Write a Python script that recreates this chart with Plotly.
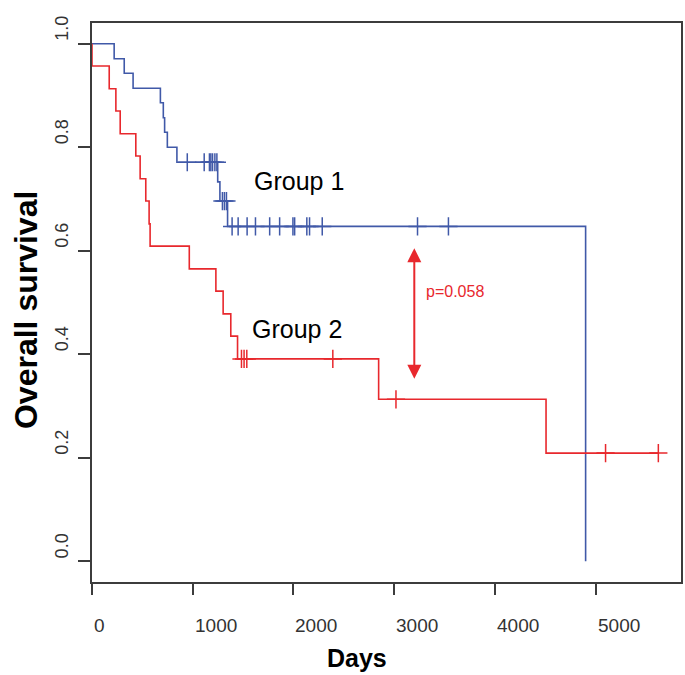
import plotly.graph_objects as go

# ---------------- data ----------------
g1_event_days = [220, 320, 408, 679, 708, 721, 748, 843, 1248, 1270, 1346, 4901]
g1_surv = [0.971, 0.943, 0.914, 0.886, 0.857, 0.829, 0.800, 0.771, 0.733, 0.696, 0.647, 0.0]
g1_censor_days = [946, 1114, 1166, 1180, 1197, 1220, 1240, 1295, 1315, 1335,
                  1391, 1451, 1540, 1623, 1764, 1863, 1995, 2012, 2133, 2160, 2286, 3232, 3539]

g2_event_days = [0, 171, 237, 280, 435, 478, 534, 567, 577, 966, 1230, 1302, 1378, 1445, 2846, 4508]
g2_surv = [0.957, 0.913, 0.870, 0.826, 0.783, 0.739, 0.696, 0.652, 0.609, 0.565,
           0.522, 0.478, 0.435, 0.391, 0.313, 0.209]
g2_censor_days = [1484, 1510, 1537, 2391, 3018, 5099, 5623]

x_ticks = [0, 1000, 2000, 3000, 4000, 5000]
x_tick_labels = ["0", "1000", "2000", "3000", "4000", "5000"]
y_ticks = [0.0, 0.2, 0.4, 0.6, 0.8, 1.0]
y_tick_labels = ["0.0", "0.2", "0.4", "0.6", "0.8", "1.0"]

group_names = ["Group 1", "Group 2"]
p_text = "p=0.058"
arrow_day = 3200
arrow_top, arrow_bottom = 0.605, 0.350

BLUE = "#4059a8"
RED = "#e8282d"
AXC = "#3c3c3c"
FONT = "Liberation Sans, Arial, Helvetica, sans-serif"


def step_xy(days, surv, censors):
    xs = [0] + list(days)
    ys = [1.0] + list(surv)
    if censors and max(censors) > xs[-1]:
        xs.append(max(censors))
        ys.append(ys[-1])
    return xs, ys


def level_at(days, surv, t):
    s = 1.0
    for d, v in zip(days, surv):
        if d <= t:
            s = v
    return s


fig = go.Figure()
for days, surv, cens, col in [(g1_event_days, g1_surv, g1_censor_days, BLUE),
                              (g2_event_days, g2_surv, g2_censor_days, RED)]:
    xs, ys = step_xy(days, surv, cens)
    fig.add_trace(go.Scatter(x=xs, y=ys, mode="lines", line=dict(color=col, width=1.6, shape="hv"),
                             showlegend=False, hoverinfo="skip"))
    fig.add_trace(go.Scatter(x=cens, y=[level_at(days, surv, t) for t in cens], mode="markers",
                             marker=dict(symbol="cross-thin", size=13, line=dict(color=col, width=1.5)),
                             showlegend=False, hoverinfo="skip"))

annotations = []
for v, lab in zip(x_ticks, x_tick_labels):
    annotations.append(dict(x=v, y=-0.0787, xref="x", yref="paper", text=lab, showarrow=False,
                            xanchor="left", yanchor="middle", font=dict(family=FONT, size=19, color="#333")))
for v, lab in zip(y_ticks, y_tick_labels):
    annotations.append(dict(x=-0.0508, y=v, xref="paper", yref="y", text=lab, showarrow=False,
                            textangle=-90, xanchor="center", yanchor="middle", yshift=15,
                            font=dict(family=FONT, size=18, color="#333")))
annotations.append(dict(x=-0.112, y=0.4866, xref="paper", yref="paper", text="<b>Overall survival</b>",
                        showarrow=False, textangle=-90, xanchor="center", yanchor="middle",
                        font=dict(family=FONT, size=32, color="#000")))
annotations.append(dict(x=0.45, y=-0.1360, xref="paper", yref="paper", text="<b>Days</b>",
                        showarrow=False, xanchor="center", yanchor="middle",
                        font=dict(family=FONT, size=25, color="#000")))
annotations.append(dict(x=1586, y=0.734, xref="x", yref="y", text=group_names[0], showarrow=False,
                        xanchor="left", yanchor="middle", font=dict(family=FONT, size=25, color="#000")))
annotations.append(dict(x=1566, y=0.448, xref="x", yref="y", text=group_names[1], showarrow=False,
                        xanchor="left", yanchor="middle", font=dict(family=FONT, size=25, color="#000")))
annotations.append(dict(x=3298, y=0.522, xref="x", yref="y", text=p_text, showarrow=False,
                        xanchor="left", yanchor="middle", font=dict(family=FONT, size=16, color=RED)))
annotations.append(dict(x=arrow_day, y=arrow_top, ax=arrow_day, ay=arrow_bottom, xref="x", yref="y",
                        axref="x", ayref="y", text="", showarrow=True, arrowside="end+start",
                        arrowhead=2, arrowsize=1.4, arrowwidth=2, arrowcolor=RED,
                        standoff=0, startstandoff=0, startarrowhead=2, startarrowsize=1.4))

fig.update_layout(
    width=685, height=675,
    margin=dict(l=92, r=2, t=23, b=93),
    paper_bgcolor="white", plot_bgcolor="white",
    showlegend=False,
    annotations=annotations,
    font=dict(family=FONT),
)
fig.update_xaxes(range=[0, 5848], tickvals=x_ticks, showticklabels=False, ticks="outside",
                 ticklen=11, tickwidth=1.5, tickcolor=AXC, showline=True, linecolor=AXC,
                 linewidth=1.5, mirror=True, showgrid=False, zeroline=False)
fig.update_yaxes(range=[-0.04, 1.04], tickvals=y_ticks, showticklabels=False, ticks="outside",
                 ticklen=12, tickwidth=1.5, tickcolor=AXC, showline=True, linecolor=AXC,
                 linewidth=1.5, mirror=True, showgrid=False, zeroline=False)

fig.write_html("out.html", config={"displayModeBar": False},
               post_script="document.body.style.margin='0';document.body.style.overflow='hidden';")
